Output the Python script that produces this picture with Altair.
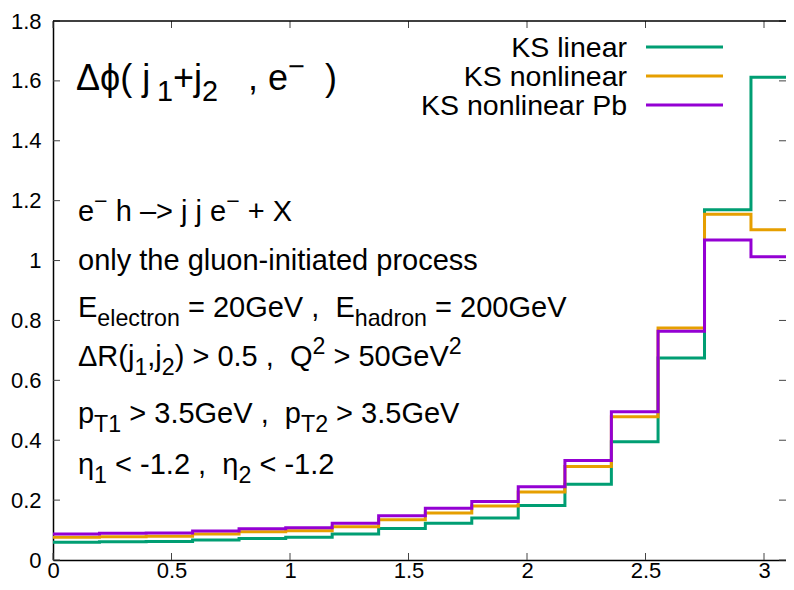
import altair as alt
import pandas as pd

FONT = "Liberation Sans"

# ---------------- data ----------------
bin_edges = [0.0, 0.196, 0.393, 0.589, 0.785, 0.982, 1.178, 1.374, 1.571,
             1.767, 1.963, 2.160, 2.356, 2.553, 2.749, 2.945, 3.142]
series_names = ["KS linear", "KS nonlinear", "KS nonlinear Pb"]
series_colors = ["#009e73", "#e69f00", "#9400d3"]
ks_linear = [0.059, 0.061, 0.062, 0.067, 0.072, 0.076, 0.087, 0.105,
             0.123, 0.140, 0.182, 0.253, 0.395, 0.675, 1.170, 1.612]
ks_nonlinear = [0.076, 0.078, 0.079, 0.087, 0.094, 0.098, 0.111, 0.134,
                0.157, 0.180, 0.227, 0.312, 0.478, 0.775, 1.155, 1.103]
ks_nonlinear_pb = [0.087, 0.089, 0.090, 0.097, 0.104, 0.108, 0.123, 0.148,
                   0.173, 0.195, 0.245, 0.332, 0.495, 0.764, 1.069, 1.013]
x_ticks = [0, 0.5, 1, 1.5, 2, 2.5, 3]
y_ticks = [0, 0.2, 0.4, 0.6, 0.8, 1.0, 1.2, 1.4, 1.6, 1.8]

title_frags = [("Δϕ( j", "n"), ("1", "sub"), ("+j", "n"), ("2", "sub"),
               ("   , e", "n"), ("−", "sup"), ("  )", "n")]
note_lines = [
    [("e", "n"), ("−", "sup"), (" h –> j j e", "n"), ("−", "sup"), (" + X", "n")],
    [("only the gluon-initiated process", "n")],
    [("E", "n"), ("electron", "sub"), (" = 20GeV , ", "n"), (" E", "n"),
     ("hadron", "sub"), (" = 200GeV", "n")],
    [("ΔR(j", "n"), ("1", "sub"), (",j", "n"), ("2", "sub"), (") > 0.5 , ", "n"),
     (" Q", "n"), ("2", "sup"), (" > 50GeV", "n"), ("2", "sup")],
    [("p", "n"), ("T1", "sub"), (" > 3.5GeV , ", "n"), (" p", "n"), ("T2", "sub"),
     (" > 3.5GeV", "n")],
    [("η", "n"), ("1", "sub"), (" < -1.2 , ", "n"), (" η", "n"), ("2", "sub"),
     (" < -1.2", "n")],
]

# ---------------- layout ----------------
PX_PER_UNIT = 237.0
W, H = 733, 539
X_MAX = W / PX_PER_UNIT    # visible part of the [0, pi] range (right side cropped)
TICK = 7
TXT = 29
LEG = 28.5

CW = {' ': 278, '(': 333, ')': 333, '+': 584, ',': 278, '-': 333, '.': 278,
      '<': 584, '=': 584, '>': 584, 'E': 667, 'G': 778, 'K': 667, 'P': 667,
      'Q': 778, 'R': 722, 'S': 667, 'T': 611, 'V': 667, 'X': 667, 'a': 556,
      'b': 556, 'c': 500, 'd': 556, 'e': 556, 'g': 556, 'h': 556, 'i': 222,
      'j': 222, 'l': 222, 'n': 556, 'o': 556, 'p': 556, 'r': 333, 's': 500,
      't': 278, 'u': 556, 'y': 500, 'Δ': 668, 'ϕ': 750, 'η': 556, '–': 556,
      '−': 584}


def tw(s, fs):
    return sum(CW.get(c, 556) for c in s) * fs / 1000.0


def layout(frags, x0, y0, fs):
    out = []
    cur = x0
    for t, kind in frags:
        f = fs if kind == "n" else fs * 0.8
        dy = 0 if kind == "n" else (0.3 * fs if kind == "sub" else -0.4 * fs)
        lead = len(t) - len(t.lstrip(" "))
        body = t.strip(" ")
        if body:
            out.append({"text": body, "x": cur + tw(" " * lead, f),
                        "y": y0 + dy, "fs": f})
        cur += tw(t, f)
    return out


ann_rows = layout(title_frags, 23, 69, 36)
note_baselines = [200, 249, 296, 345, 402, 453]
for frags, yb in zip(note_lines, note_baselines):
    ann_rows += layout(frags, 25, yb, TXT)
ann_df = pd.DataFrame(ann_rows)

rows = []
for name, vals in zip(series_names, [ks_linear, ks_nonlinear, ks_nonlinear_pb]):
    for i, v in enumerate(vals):
        rows.append({"series": name, "x": bin_edges[i], "y": v, "order": i})
    rows.append({"series": name, "x": bin_edges[-1], "y": vals[-1], "order": len(vals)})
df = pd.DataFrame(rows)

xs = alt.Scale(domain=[0, X_MAX], nice=False, zero=False)
ys = alt.Scale(domain=[0, 1.8], nice=False)
cs = alt.Scale(domain=series_names, range=series_colors)

xaxis = alt.Axis(values=x_ticks, format="~g", title=None, ticks=False, grid=False,
                 labelPadding=0, labelFontSize=22, labelFlush=False)
yaxis = alt.Axis(values=y_ticks, format="~g", title=None, ticks=False, grid=False,
                 labelPadding=12, labelFontSize=22, labelFlush=False)

layers = []
for name in series_names:
    layers.append(
        alt.Chart(df).transform_filter(alt.datum.series == name)
        .mark_line(interpolate="step-after", strokeWidth=3, clip=True)
        .encode(x=alt.X("x:Q", scale=xs, axis=xaxis),
                y=alt.Y("y:Q", scale=ys, axis=yaxis),
                color=alt.Color("series:N", scale=cs, legend=None),
                order="order:Q")
    )

# legend (plot-relative pixel layout)
leg_df = pd.DataFrame({"series": series_names,
                       "ty": [36 + 29 * i for i in range(3)],
                       "ly": [26 + 29 * i for i in range(3)]})
leg_text = alt.Chart(leg_df).mark_text(align="right", baseline="alphabetic", font=FONT,
                                       fontSize=LEG, color="black").encode(
    x=alt.value(574), y=alt.Y("ty:Q", scale=None, axis=None), text="series:N")
leg_line = alt.Chart(leg_df).mark_rule(strokeWidth=3).encode(
    x=alt.value(593), x2=alt.value(670), y=alt.Y("ly:Q", scale=None, axis=None),
    color=alt.Color("series:N", scale=cs, legend=None))

ann = alt.Chart(ann_df).mark_text(align="left", baseline="alphabetic", font=FONT,
                                  color="black").encode(
    x=alt.X("x:Q", scale=None, axis=None), y=alt.Y("y:Q", scale=None, axis=None),
    text="text:N", size=alt.Size("fs:Q", scale=None, legend=None))

# gnuplot style inward ticks and top border
ytd = pd.DataFrame({"v": y_ticks})
xtd = pd.DataFrame({"v": x_ticks})
tick_style = dict(color="#444444", strokeWidth=1)
yl = alt.Chart(ytd).mark_rule(**tick_style).encode(
    y=alt.Y("v:Q", scale=ys, axis=yaxis), x=alt.value(0), x2=alt.value(TICK))
yr = alt.Chart(ytd).mark_rule(**tick_style).encode(
    y=alt.Y("v:Q", scale=ys, axis=yaxis), x=alt.value(W - TICK), x2=alt.value(W))
xb = alt.Chart(xtd).mark_rule(**tick_style).encode(
    x=alt.X("v:Q", scale=xs, axis=xaxis), y=alt.value(H), y2=alt.value(H - TICK))
xt = alt.Chart(xtd).mark_rule(**tick_style).encode(
    x=alt.X("v:Q", scale=xs, axis=xaxis), y=alt.value(0), y2=alt.value(TICK))
top = alt.Chart(pd.DataFrame({"a": [0]})).mark_rule(color="black", strokeWidth=1.5).encode(
    x=alt.value(0), x2=alt.value(W), y=alt.value(0))

chart = alt.layer(*layers, leg_line, leg_text, ann, yl, yr, xb, xt, top).properties(
    width=W, height=H,
    autosize=alt.AutoSizeParams(type="none"),
    padding={"left": 45, "top": 13, "right": 0, "bottom": 22},
    background="white",
).configure_view(stroke=None).configure_axis(
    labelFont=FONT, labelColor="black", domainColor="black", domainWidth=1.5,
    labelOverlap=False,
)

chart.save("out.html", embed_options={"renderer": "svg", "actions": False})
